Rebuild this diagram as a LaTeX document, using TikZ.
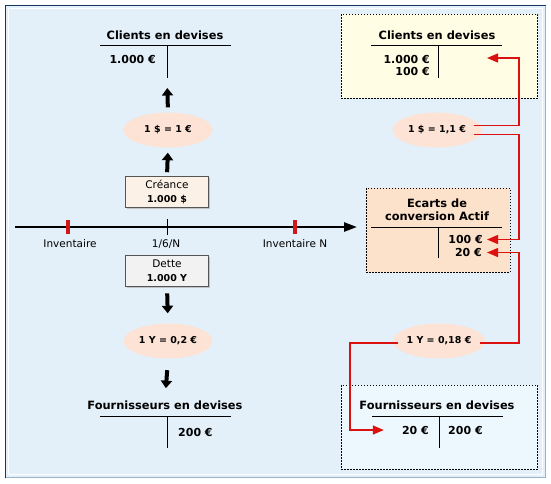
\documentclass[tikz,border=0pt]{standalone}
\usepackage{fontspec}
\setmainfont{DejaVu Sans}
\usetikzlibrary{arrows.meta,shapes.geometric,shadows,calc}

\definecolor{bgblue}{HTML}{E3F0FA}
\definecolor{framedark}{HTML}{17375E}
\definecolor{framelight}{HTML}{9DB3C6}
\definecolor{ratefill}{HTML}{FCE3D5}
\definecolor{credfill}{HTML}{FBF1E6}
\definecolor{detfill}{HTML}{F2F2F2}
\definecolor{boxline}{HTML}{555555}
\definecolor{zoneyellow}{HTML}{FFFDE3}
\definecolor{zoneorange}{HTML}{FDE2CB}
\definecolor{zoneblue}{HTML}{EDF8FE}
\definecolor{linkred}{HTML}{DC1010}
\definecolor{tickred}{HTML}{D01818}

\tikzset{
  acct title/.style={font=\fontsize{11.4}{13}\selectfont\bfseries, inner sep=0pt, anchor=base},
  amount/.style={font=\fontsize{11}{13}\selectfont\bfseries, inner sep=0pt},
  rate/.style={ellipse, fill=ratefill, minimum width=89pt, minimum height=35pt, inner sep=0pt,
    font=\fontsize{9.5}{11}\selectfont\bfseries},
  datebox/.style={draw=boxline, line width=0.6pt, minimum width=83pt, minimum height=31pt,
    inner sep=0pt, align=center, font=\fontsize{10.5}{13.5}\selectfont,
    drop shadow={shadow xshift=1.5pt, shadow yshift=-1.5pt, fill=black!35, opacity=0.6}},
  zone/.style={draw=black, dash pattern=on 1.5pt off 1.5pt, line width=0.8pt},
  tline/.style={line width=0.9pt},
  bigarrow/.style={line width=4pt, -{Triangle[length=7.5pt,width=11pt]}},
  redcon/.style={draw=linkred, line width=1.3pt, -{Triangle[length=11pt,width=9pt,fill=linkred]}},
  ticklbl/.style={font=\fontsize{10.5}{12}\selectfont, inner sep=0pt, anchor=base}
}

\begin{document}
\begin{tikzpicture}[x=1pt,y=-1pt]
\useasboundingbox (0,0) rectangle (551,483);

% frame
\fill[bgblue] (5,5) rectangle (546,478);
\draw[framelight, line width=1.2pt] (5.5,477.5) -- (545.5,477.5) -- (545.5,5.5);
\draw[framedark, line width=1.3pt] (5.5,477.5) -- (5.5,5.5) -- (545.5,5.5);
\draw[white, line width=1pt] (8.5,473.5) -- (8.5,8.5) -- (542.5,8.5);
\draw[white, line width=1pt] (8.5,474.5) -- (542.5,474.5) -- (542.5,8.5);

% right zones
\filldraw[zone, fill=zoneyellow] (341,14) rectangle (537.5,98);
\filldraw[zone, fill=zoneorange] (366,188) rectangle (510,272);
\filldraw[zone, fill=zoneblue] (341,385) rectangle (537.5,469);

% left column
\node[acct title] (lcli) at (165,39.5) {Clients en devises};
\draw[tline] (100,45.5) -- (231,45.5) (167,45.5) -- (167,78);
\node[amount, anchor=base east] (lcli1) at (156,63) {1.000 €};
\coordinate (lclib) at (167,78);

\node[rate] (rate1) at (168,130) {1 \$ = 1 €};
\node[datebox, fill=credfill] (cre) at (167,192) {Créance\\{\bfseries\fontsize{9.5}{13.5}\selectfont 1.000 \$}};
\draw[bigarrow, shorten <=4pt, shorten >=5pt] (cre.north) -- (rate1.south);
\draw[bigarrow, shorten <=5pt, shorten >=10pt] (rate1.north) -- (lclib);

% time line
\coordinate (tl0) at (15,227);
\coordinate (tl1) at (357,227);
\draw[line width=2.5pt, -{Triangle[length=13pt,width=9pt]}] (tl0) -- (tl1);
\foreach \x in {68,295}
  \draw[tickred, line width=3.5pt] (\x,220) -- (\x,234);
\draw[line width=0.8pt] (167,219) -- (167,235);
\node[ticklbl] (inv0) at (70,247) {Inventaire};
\node[ticklbl] (date) at (166,247) {1/6/N};
\node[ticklbl] (inv1) at (295,247) {Inventaire N};

\node[datebox, fill=detfill] (det) at (167,270.5) {Dette\\{\bfseries\fontsize{9.5}{13.5}\selectfont 1.000 Y}};
\node[rate] (rate2) at (168,341) {1 Y = 0,2 €};
\node[acct title] (lfou) at (165,409.5) {Fournisseurs en devises};
\draw[tline] (100,416) -- (231,416) (167,416) -- (167,448);
\node[amount, anchor=base west] (lfou1) at (178,436) {200 €};
\draw[bigarrow, shorten <=7pt, shorten >=10pt] (det.south) -- (rate2.north);
\draw[bigarrow, shorten <=11.5pt, shorten >=12.5pt] (rate2.south) -- (lfou.north);

% right column
\node[acct title] (rcli) at (437,39.5) {Clients en devises};
\draw[tline] (371,45.5) -- (502,45.5) (438,45.5) -- (438,78);
\node[amount, anchor=base east] (rcli1) at (430,63) {1.000 €};
\node[amount, anchor=base east] (rcli2) at (430,75.5) {100 €};

\node[rate] (rate3) at (437,130) {1 \$ = 1,1 €};

\node[acct title] (eca1) at (437,207) {Ecarts de};
\node[acct title] (eca2) at (437,220) {conversion Actif};
\draw[tline] (371,227.5) -- (502,227.5) (438,227.5) -- (438,258);
\node[amount, anchor=base east] (eca100) at (483,243.5) {100 €};
\node[amount, anchor=base east] (eca20) at (482,256.5) {20 €};

\node[rate] (rate4) at (439,341) {1 Y = 0,18 €};

\node[acct title] (rfou) at (437,409.5) {Fournisseurs en devises};
\draw[tline] (372,416) -- (503,416) (439,416) -- (439,448);
\node[amount, anchor=base east] (rfou20) at (429,434) {20 €};
\node[amount, anchor=base west] (rfou200) at (448,434) {200 €};

% red links
\coordinate (bendR) at (519,0);
\coordinate (bendL) at (350,0);
\coordinate (rclit) at (487,58);
\coordinate (e100t) at ([xshift=4pt]eca100.east);
\coordinate (e20t) at ([xshift=5pt]eca20.east);
\coordinate (f20t) at ([xshift=-18pt]rfou20.west);
\draw[redcon] ([xshift=-8pt,yshift=4.5pt]rate3.east) -| (bendR |- rclit) -- (rclit);
\draw[redcon] ([xshift=-8pt,yshift=-4.5pt]rate3.east) -| (bendR |- e100t) -- (e100t);
\draw[redcon] ([xshift=-5pt,yshift=-2pt]rate4.east) -| (bendR |- e20t) -- (e20t);
\draw[redcon] ([xshift=5pt,yshift=-2pt]rate4.west) -| (bendL |- f20t) -- (f20t);
\end{tikzpicture}
\end{document}
